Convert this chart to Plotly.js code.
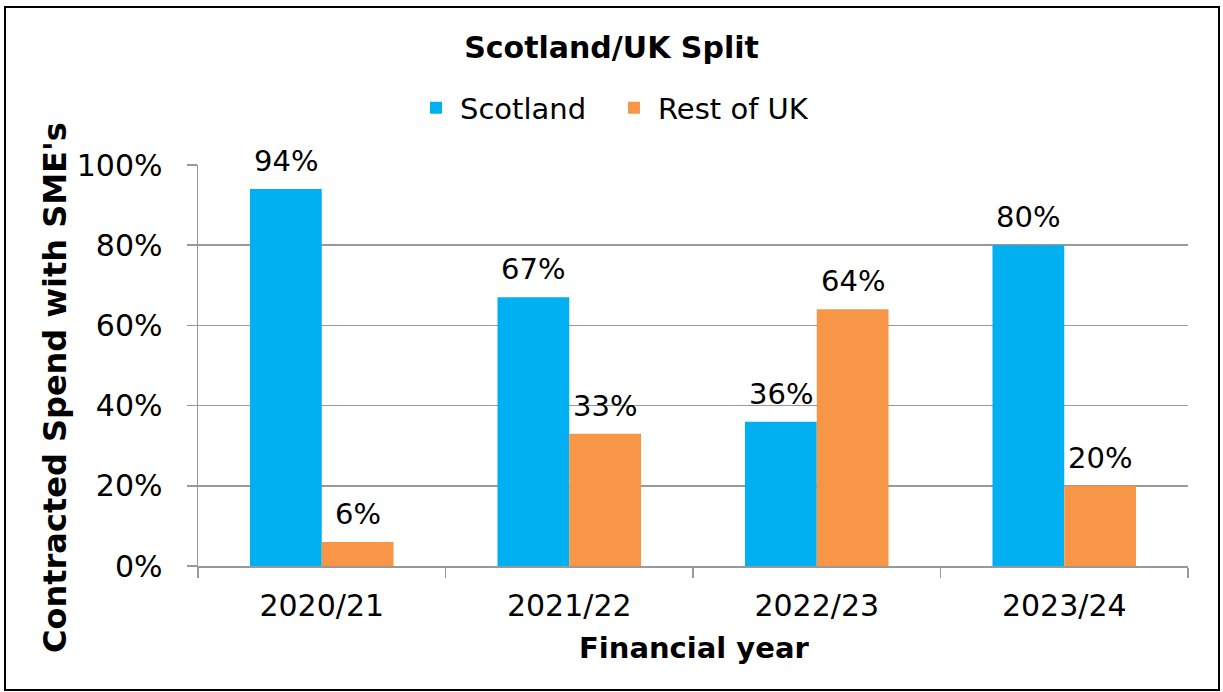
<!DOCTYPE html>
<html>
<head>
<meta charset="utf-8">
<script src="https://cdn.plot.ly/plotly-3.0.1.min.js"></script>
<style>
html,body{margin:0;padding:0;background:#fff;}
#chart{width:1223px;height:692px;}
</style>
</head>
<body>
<div id="chart"></div>
<script>
const categories = ["2020/21", "2021/22", "2022/23", "2023/24"];
const scotland = [94, 67, 36, 80];
const restOfUK = [6, 33, 64, 20];
const seriesNames = ["Scotland", "Rest of UK"];
const yTicks = [0, 20, 40, 60, 80, 100];
const yTickLabels = ["0%", "20%", "40%", "60%", "80%", "100%"];

const FONT = "DejaVu Sans, Verdana, sans-serif";
const L = 198, R = 35, T = 165, B = 126;
const W = 1223, H = 692;
const pw = W - L - R, ph = H - T - B;
const px = v => (v - L) / pw;
const py = v => (H - B - v) / ph;
const BARGAP = 0.42;
const halfOffset = (1 - BARGAP) / 4;   // offset of each bar centre from category centre (category units)

const traces = [
  {
    type: "bar", name: seriesNames[0], x: categories, y: scotland,
    marker: {color: "#00B0F0"}, hoverinfo: "none"
  },
  {
    type: "bar", name: seriesNames[1], x: categories, y: restOfUK,
    marker: {color: "#F79646"}, hoverinfo: "none"
  }
];

// data labels placed through the axes' scales
const labelAnn = [];
[scotland, restOfUK].forEach((series, s) => {
  series.forEach((v, i) => {
    labelAnn.push({
      text: v + "%", xref: "x", yref: "y",
      x: i + (s === 0 ? -halfOffset : halfOffset), y: v,
      xanchor: "center", yanchor: "bottom", yshift: 9, showarrow: false,
      font: {family: FONT, size: 29, color: "#000"}
    });
  });
});

const layout = {
  width: W, height: H,
  margin: {l: L, r: R, t: T, b: B, pad: 0},
  paper_bgcolor: "#fff", plot_bgcolor: "#fff",
  font: {family: FONT, size: 29, color: "#000"},
  title: {text: "<b>Scotland/UK Split</b>", font: {family: FONT, size: 30, color: "#000"},
          x: 0.5, xref: "container", xanchor: "center", y: 1 - 47/H, yref: "container", yanchor: "middle"},
  barmode: "group", bargap: BARGAP, bargroupgap: 0,
  showlegend: true,
  legend: {orientation: "h", x: px(412), xanchor: "left", y: py(108), yanchor: "middle",
           font: {family: FONT, size: 29, color: "#000"}, itemwidth: 38, traceorder: "normal",
           entrywidth: 145, entrywidthmode: "pixels"},
  xaxis: {
    type: "category", showgrid: false, showline: true, linecolor: "#999", linewidth: 1.5,
    ticks: "outside", tickson: "boundaries", ticklen: 10, tickcolor: "#999", tickwidth: 1.5,
    tickfont: {family: FONT, size: 30, color: "#000"}, zeroline: false, ticklabelstandoff: 12,
    range: [-0.5, categories.length - 0.5]
  },
  yaxis: {
    range: [0, 100], tickvals: yTicks, ticktext: yTickLabels,
    showgrid: true, gridcolor: "#999", gridwidth: 1.5,
    showline: true, linecolor: "#999", linewidth: 1.5,
    ticks: "outside", ticklen: 10, tickcolor: "#999", tickwidth: 1.5,
    tickfont: {family: FONT, size: 30, color: "#000"}, zeroline: false, ticklabelstandoff: 18
  },
  annotations: labelAnn.concat([
    {text: "<b>Financial year</b>", xref: "paper", yref: "paper", x: px(694), y: py(648),
     xanchor: "center", yanchor: "middle", showarrow: false, font: {family: FONT, size: 29, color: "#000"}},
    {text: "<b>Contracted Spend with SME's</b>", xref: "paper", yref: "paper", x: px(55), y: py(388),
     xanchor: "center", yanchor: "middle", textangle: -90, showarrow: false, font: {family: FONT, size: 32, color: "#000"}}
  ]),
  shapes: [
    {type: "rect", xref: "paper", yref: "paper", x0: px(5), x1: px(1219), y0: py(690), y1: py(7),
     line: {color: "#000", width: 2}, fillcolor: "rgba(0,0,0,0)", layer: "above"}
  ]
};

Plotly.newPlot("chart", traces, layout, {staticPlot: true, displayModeBar: false});
</script>
</body>
</html>
